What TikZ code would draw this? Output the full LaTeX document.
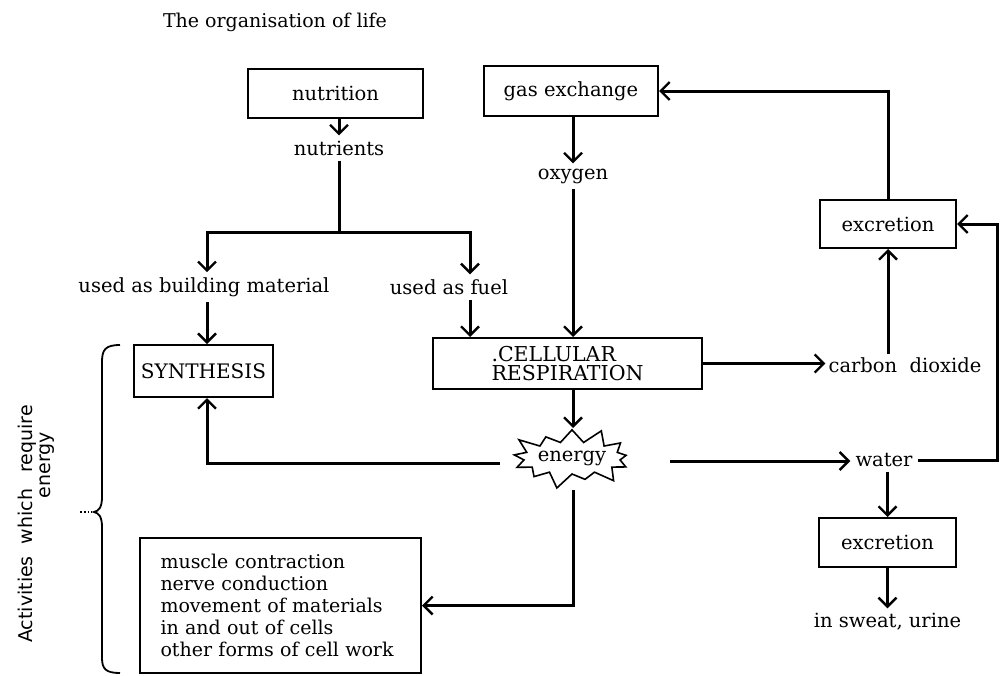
\documentclass[tikz,border=0pt]{standalone}
\usepackage{fontspec}
\setmainfont{DejaVu Serif}
\newfontfamily\rotfont{DejaVu Sans}
\usetikzlibrary{arrows.meta,shapes.symbols}
\begin{document}
\begin{tikzpicture}[x=1pt,y=-1pt,
  box/.style={draw,line width=2pt,inner sep=0pt,font=\fontsize{19.5}{21}\selectfont},
  lbl/.style={inner sep=5pt,font=\fontsize{19.5}{21}\selectfont},
  conn/.style={line width=3pt,line join=miter,-{Straight Barb[length=9pt,width=18pt,line width=2.4pt]}},
  plain/.style={line width=3pt}]
\useasboundingbox (0,0) rectangle (1003,675);
\fill[white] (0,0) rectangle (1003,675);

\node[font=\fontsize{19}{21}\selectfont] (title) at (275,22) {The organisation of life};
\node[box,minimum width=175pt,minimum height=49pt] (nutr) at (335.5,93.5) {nutrition};
\node[box,minimum width=174pt,minimum height=50pt] (gasx) at (571,91) {gas exchange};
\node[lbl] (nutrients) at (339,148) {nutrients};
\node[lbl] (oxygen) at (573,176) {oxygen};
\node[lbl] (build) at (204,287) {used as building material};
\node[lbl] (fuel) at (449,287) {used as fuel};
\node[box,minimum width=139pt,minimum height=52pt,font=\fontsize{20}{21}\selectfont] (synth) at (203.5,371) {SYNTHESIS};
\node[box,minimum width=269pt,minimum height=51pt,align=left,font=\fontsize{20.5}{19}\selectfont] (resp) at (567.5,363.5) {.CELLULAR\\RESPIRATION};
\node[lbl,inner sep=3pt] (co2) at (905,365) {carbon\ \ dioxide};
\node[box,minimum width=136pt,minimum height=48pt] (exc1) at (888,224) {excretion};
\node[starburst,draw,line width=1.6pt,minimum width=121pt,minimum height=66pt,inner sep=0pt,starburst points=13,starburst point height=17pt,font=\fontsize{19.5}{21}\selectfont] (energy) at (572,458) {energy};
\node[lbl] (water) at (884,460) {water};
\node[box,minimum width=137pt,minimum height=49pt] (exc2) at (887.5,542.5) {excretion};
\node[lbl] (sweat) at (887.5,622) {in sweat, urine};
\node[box,text width=240pt,align=left,minimum width=281pt,minimum height=135pt,font=\fontsize{19}{22}\selectfont] (act) at (280.5,605.5) {muscle contraction\\ nerve conduction\\ movement of materials\\ in and out of cells\\ other forms of cell work};

\node[rotate=90,font=\rotfont\fontsize{19}{21}\selectfont] (actlbl) at (27,524) {Activities\hspace{12pt}which\hspace{16pt}require};
\node[rotate=90,font=\rotfont\fontsize{19}{21}\selectfont] (enlbl) at (47,465) {energy};

\coordinate (split) at (339,232);
\coordinate (sl) at (207,232);
\coordinate (sr) at (470,232);
\coordinate (etop) at (573,428);
\coordinate (eL) at (500,463);
\coordinate (eR) at (670,461);
\coordinate (eB) at (573,490);
\coordinate (wR) at (997,460);

\draw[conn] (nutr.south -| nutrients.north) -- (nutrients.north);
\draw[conn] (gasx.south -| oxygen.north) -- (oxygen.north);
\draw[plain] (nutrients.south) -- (split);
\draw[conn] (split) -- (sl) -- (sl |- build.north);
\draw[conn] (split) -- (sr) -- (sr |- fuel.north);
\draw[conn] (build.south -| sl) -- (synth.north -| sl);
\draw[conn] (fuel.south -| sr) -- (resp.north -| sr);
\draw[conn] (oxygen.south) -- (resp.north -| oxygen);
\draw[conn] (resp.south -| etop) -- (etop);
\draw[conn] (resp.east) -- (resp.east -| co2.west);
\draw[conn] (co2.north -| exc1.south) -- (exc1.south);
\draw[conn] (exc1.north) -- (exc1.north |- gasx.east) -- (gasx.east);
\draw[conn] (eL) -- (eL -| sl) -- (synth.south -| sl);
\draw[conn] (eR) -- (eR -| water.west);
\draw[conn] (water.east) -- (wR) -- (wR |- exc1.east) -- (exc1.east);
\draw[conn] (water.south -| exc2.north) -- (exc2.north);
\draw[conn] (exc2.south) -- (exc2.south |- sweat.north);
\draw[conn] (eB) -- (eB |- act.east) -- (act.east);

\draw[line width=1.8pt] (120,345) .. controls (105,345) and (102,350) .. (102,362) -- (102,497)
  .. controls (102,507) and (99,511) .. (94,512) .. controls (99,513) and (102,517) .. (102,527)
  -- (102,658) .. controls (102,669) and (106,673) .. (120,673);
\draw[line width=1.8pt,dotted] (80,512) -- (92,512);
\end{tikzpicture}
\end{document}
